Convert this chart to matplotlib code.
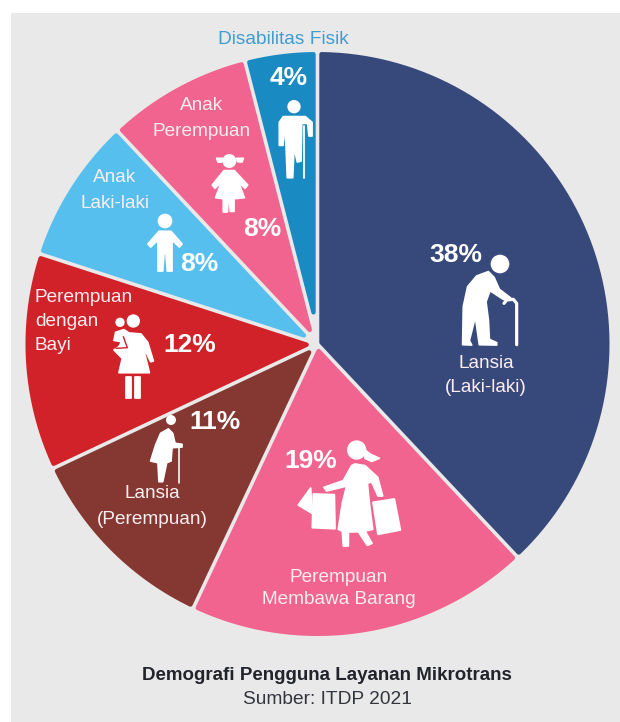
#!/usr/bin/env python

import numpy as np
from matplotlib import pyplot as plt
from matplotlib.patches import Circle, Polygon, Rectangle

groups = ['Lansia (Laki-laki)', 'Perempuan Membawa Barang', 'Lansia (Perempuan)',
          'Perempuan dengan Bayi', 'Anak Laki-laki', 'Anak Perempuan', 'Disabilitas Fisik']
shares = [38, 19, 11, 12, 8, 8, 4]
colors = ['#37487b', '#f1648f', '#853831', '#d12229', '#56bfee', '#f1648f', '#1a8bc2']

BG = '#e9e9e9'
CX, CY, R = 317.5, 344.0, 292.0
GAP = 1.8     # half of the gap between slices
ROUND = 2.2   # corner radius of a slice

plt.rcParams['font.family'] = ['Liberation Sans', 'DejaVu Sans']

fig = plt.figure(figsize=(6.2, 7.22), dpi=100)
ax = fig.add_axes([0, 0, 1, 1])
ax.set_xlim(0, 620)
ax.set_ylim(722, 0)
ax.axis('off')
ax.add_patch(Rectangle((11, 13), 609, 709, color=BG, lw=0))


def pt(px):
    return px * 72.0 / fig.dpi


def slice_outline(start, end):
    # slice with its sides moved inward, so the gap has the same width all the way
    half = (end - start) / 2
    mid = start + half
    inset = GAP + ROUND
    shift = inset / np.sin(half)
    ax0 = CX + shift * np.sin(mid)
    ay0 = CY - shift * np.cos(mid)
    r = R - ROUND
    # the sides are cut by the circle a bit after the slice's own angle
    da = np.arcsin(inset / r)
    t = np.linspace(start + da, end - da, 80)
    xs = np.r_[ax0, CX + r * np.sin(t)]
    ys = np.r_[ay0, CY - r * np.cos(t)]
    return xs, ys


edges = np.radians(np.cumsum([0] + shares) * 3.6)
for a, b, c in zip(edges[:-1], edges[1:], colors):
    xs, ys = slice_outline(a, b)
    ax.fill(xs, ys, facecolor=c, edgecolor=c, lw=pt(2 * ROUND), joinstyle='round')


# icons: outlines noted at 3x, with an offset for the crop they were noted on
def shape(points, ox, oy, color='white', lw=1.8):
    p = [(x / 3.0 + ox, y / 3.0 + oy) for x, y in points]
    ax.add_patch(Polygon(p, closed=True, facecolor=color, edgecolor=color,
                         lw=pt(lw), joinstyle='round', zorder=3))


def stroke(points, ox, oy, width, color='white'):
    xs = [x / 3.0 + ox for x, y in points]
    ys = [y / 3.0 + oy for x, y in points]
    ax.plot(xs, ys, color=color, lw=pt(width), solid_capstyle='round',
            solid_joinstyle='round', zorder=3)


def head(x, y, r, ox, oy):
    ax.add_patch(Circle((x / 3.0 + ox, y / 3.0 + oy), r / 3.0, color='white', lw=0, zorder=3))


# old man with a cane
head(630, 132, 28, 290, 220)
shape([(518, 374), (520, 260), (533, 200), (560, 168), (595, 155), (612, 172), (628, 208),
       (662, 234), (655, 240), (640, 238), (600, 212), (588, 245), (595, 300), (598, 358),
       (620, 368), (620, 375), (568, 374), (556, 290), (538, 362), (545, 375)], 290, 220)
stroke([(642, 250), (650, 240), (670, 238), (680, 250), (680, 374)], 290, 220, 3.2)

# woman carrying bags
head(200, 690, 29, 290, 220)
shape([(225, 690), (240, 702), (268, 715), (245, 724), (225, 715)], 290, 220)
shape([(195, 732), (225, 737), (263, 772), (278, 828), (264, 828), (245, 785), (232, 790),
       (238, 850), (248, 928), (225, 933), (246, 970), (232, 976), (205, 935), (175, 936),
       (175, 978), (160, 978), (157, 933), (145, 928), (157, 850), (170, 798), (110, 813),
       (102, 802), (160, 782), (185, 737)], 290, 220)
shape([(70, 822), (133, 824), (135, 926), (67, 923)], 290, 220)
shape([(25, 855), (62, 804), (66, 880)], 290, 220)
shape([(249, 847), (313, 837), (331, 930), (264, 943)], 290, 220)

# old woman with a cane
head(213, 345, 15, 100, 305)
shape([(205, 372), (218, 385), (225, 415), (246, 418), (246, 426), (216, 428), (213, 468),
       (200, 473), (188, 530), (177, 530), (174, 473), (152, 468), (167, 420), (182, 385)],
      100, 305)
stroke([(237, 430), (237, 535)], 100, 305, 1.6)

# woman holding a baby
head(100, 48, 20, 100, 305)
head(60, 52, 14, 100, 305)
shape([(87, 84), (123, 87), (143, 112), (160, 168), (152, 170), (130, 125), (135, 150),
       (148, 203), (57, 203), (67, 160), (42, 135), (57, 125), (65, 110), (42, 106),
       (47, 82), (72, 74)], 100, 305)
stroke([(70, 95), (82, 128), (48, 130)], 100, 305, 1.4, color=colors[3])
shape([(77, 217), (93, 217), (93, 278), (77, 278)], 100, 305)
shape([(105, 217), (120, 217), (120, 278), (105, 278)], 100, 305)

# girl
head(268, 213, 21, 140, 90)
shape([(230, 205), (248, 205), (245, 216), (234, 216)], 140, 90)
shape([(290, 205), (310, 205), (306, 216), (293, 215)], 140, 90)
shape([(252, 242), (283, 242), (323, 285), (315, 295), (295, 275), (313, 323), (282, 326),
       (282, 364), (271, 364), (268, 330), (264, 330), (262, 366), (250, 366), (250, 326),
       (227, 323), (245, 275), (225, 295), (217, 285)], 140, 90)

# boy
head(75, 393, 22, 140, 90)
shape([(57, 424), (93, 424), (126, 462), (118, 471), (96, 450), (96, 543), (82, 543),
       (78, 490), (72, 490), (68, 543), (54, 543), (54, 450), (32, 471), (24, 462)], 140, 90)

# man with one leg and a crutch
head(462, 50, 20, 140, 90)
shape([(430, 80), (496, 80), (516, 97), (516, 138), (507, 138), (503, 100), (485, 100),
       (483, 213), (472, 216), (462, 170), (458, 263), (442, 263), (438, 165), (433, 100),
       (429, 166), (418, 166), (418, 97)], 140, 90)
stroke([(493, 108), (493, 265)], 140, 90, 1.8)

# percentages, in the order of the slices
pct_xy = [(456, 255), (311, 461), (215, 422), (190, 345), (199, 264), (262, 229), (289, 78)]
for v, (x, y) in zip(shares, pct_xy):
    ax.text(x, y, f'{v}%', color='white', fontsize=19, fontweight='bold',
            ha='center', va='center', zorder=4)

# slice names
names = [('Lansia', 486, 364), ('(Laki-laki)', 486, 388),
         ('Perempuan', 339, 577), ('Membawa Barang', 339, 600),
         ('Lansia', 152, 494), ('(Perempuan)', 152, 519),
         ('Anak', 115, 178), ('Laki-laki', 115, 203),
         ('Anak', 202, 106), ('Perempuan', 202, 131)]
for s, x, y in names:
    ax.text(x, y, s, color='#fdeef2', fontsize=13.7, ha='center', va='center', zorder=4)

for s, y in [('Perempuan', 297), ('dengan', 321), ('Bayi', 345)]:
    ax.text(35, y, s, color='#fdeef2', fontsize=13.7, ha='left', va='center', zorder=4)

ax.text(283, 40, groups[-1], color='#3f9dcf', fontsize=13.8, ha='center', va='center')

ax.text(327, 676, 'Demografi Pengguna Layanan Mikrotrans', color='#22242c', fontsize=13.5,
        fontweight='bold', ha='center', va='center')
ax.text(327, 700, 'Sumber: ITDP 2021', color='#33353d', fontsize=13.8,
        ha='center', va='center')

plt.savefig('out.png', dpi=100)
